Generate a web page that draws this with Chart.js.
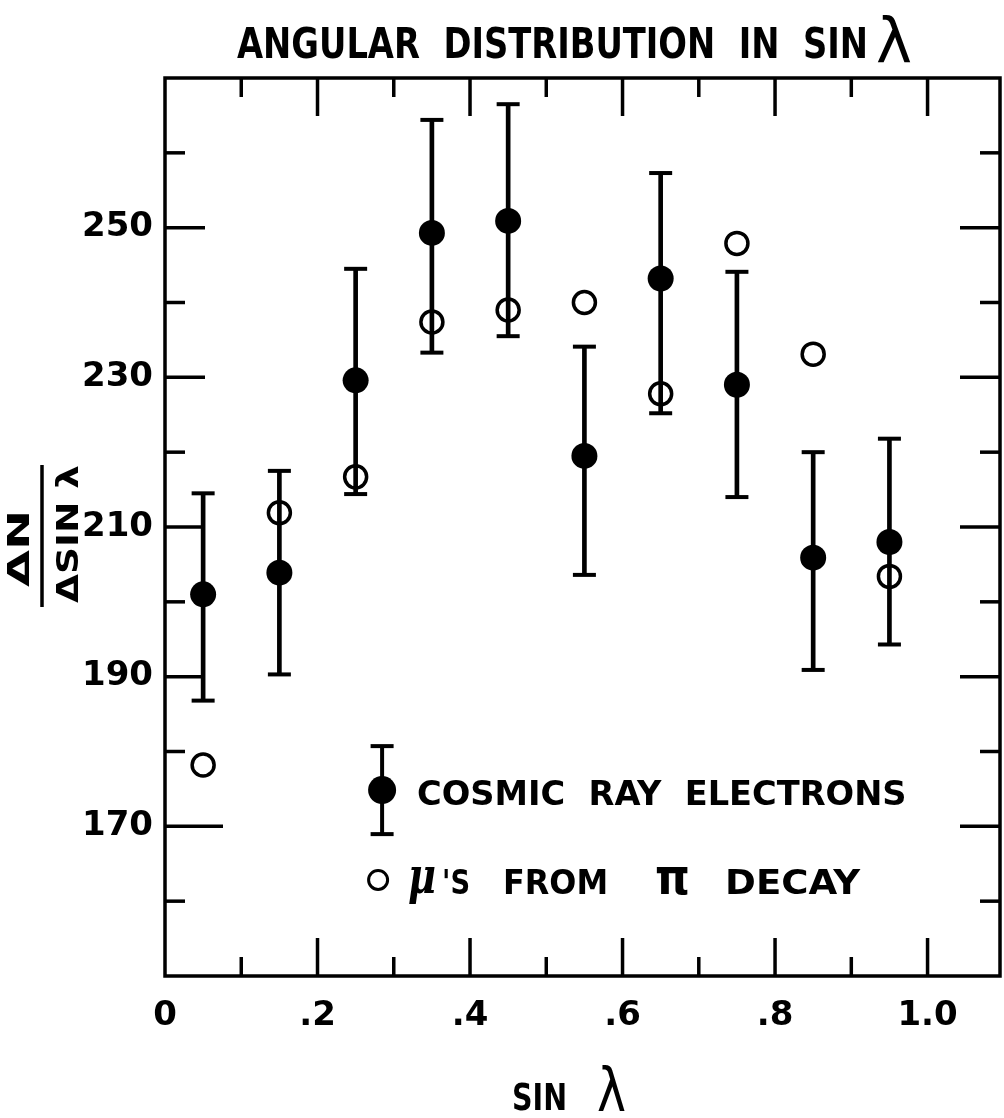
<!DOCTYPE html>
<html>
<head>
<meta charset="utf-8">
<script src="https://cdn.jsdelivr.net/npm/chart.js@4.4.1/dist/chart.umd.min.js"></script>
<style>
  html, body { margin: 0; padding: 0; background: #fff; }
  #wrap { width: 1004px; height: 1118px; }
</style>
</head>
<body>
<div id="wrap"><canvas id="angular" width="1004" height="1118"></canvas></div>
<script>
// bin centres in sin(lambda)
var sinLambda = [0.05, 0.15, 0.25, 0.35, 0.45, 0.55, 0.65, 0.75, 0.85, 0.95];

// cosmic ray electrons, with the ends of their error bars
var electrons     = [201.0, 203.9, 229.6, 249.3, 250.9, 219.5, 243.2, 229.0, 205.9, 208.0];
var electronsLow  = [186.8, 190.3, 214.4, 233.3, 235.5, 203.6, 225.2, 214.0, 190.9, 194.3];
var electronsHigh = [214.5, 217.5, 244.5, 264.4, 266.5, 234.1, 257.3, 244.1, 220.0, 221.8];

// mu's from pi decay
var muons = [178.2, 211.9, 216.7, 237.4, 239.0, 240.0, 227.8, 247.9, 233.1, 203.4];

// labelled ticks
var xTickValues = [0, 0.2, 0.4, 0.6, 0.8, 1.0];
var xTickLabels = ['0', '.2', '.4', '.6', '.8', '1.0'];
var yTickValues = [170, 190, 210, 230, 250];

var INK = '#000';
var LETTERING = '"Liberation Sans Narrow", "DejaVu Sans Condensed", "Roboto Condensed", "Liberation Sans", sans-serif';

function near(a, b) { return Math.abs(a - b) < 1e-6; }

function xLabel(v) {
  for (var i = 0; i < xTickValues.length; i++) {
    if (near(v, xTickValues[i])) return xTickLabels[i];
  }
  return '';
}

function yLabel(v) {
  return yTickValues.indexOf(Math.round(v)) >= 0 && near(v, Math.round(v)) ? String(v) : '';
}

// squeeze or stretch a line of lettering so it fills [left, right]
function fitText(ctx, text, left, right, baseline, font) {
  ctx.save();
  ctx.font = font;
  ctx.textAlign = 'left';
  ctx.textBaseline = 'alphabetic';
  var w = ctx.measureText(text).width;
  ctx.translate(left, baseline);
  ctx.scale((right - left) / w, 1);
  ctx.fillText(text, 0, 0);
  ctx.restore();
}

function stroke(ctx, x1, y1, x2, y2) {
  ctx.beginPath();
  ctx.moveTo(x1, y1);
  ctx.lineTo(x2, y2);
  ctx.stroke();
}

// box round the plot with inward ticks on all four sides
var frameTicks = {
  id: 'frameTicks',
  afterDatasetsDraw: function(chart) {
    var ctx = chart.ctx, a = chart.chartArea;
    var xs = chart.scales.x, ys = chart.scales.y;
    ctx.save();
    ctx.strokeStyle = INK;
    ctx.lineCap = 'butt';
    ctx.lineWidth = 3.5;
    ctx.strokeRect(a.left, a.top, a.right - a.left, a.bottom - a.top);
    xs.ticks.forEach(function(t) {
      if (t.value <= 0 || t.value >= xs.max) return;
      var major = xLabel(t.value) !== '';
      var len = major ? 38 : 19;
      var px = xs.getPixelForValue(t.value);
      stroke(ctx, px, a.bottom, px, a.bottom - len);
      stroke(ctx, px, a.top, px, a.top + len);
    });
    ys.ticks.forEach(function(t) {
      if (t.value <= ys.min || t.value >= ys.max) return;
      var major = yLabel(t.value) !== '';
      var len = major ? 40 : 20;
      var py = ys.getPixelForValue(t.value);
      // the lowest labelled tick on the left was drawn long on the original
      var leftLen = near(t.value, yTickValues[0]) ? 58 : len;
      stroke(ctx, a.left, py, a.left + leftLen, py);
      stroke(ctx, a.right, py, a.right - len, py);
    });
    ctx.restore();
  }
};

// titles and the key, lettered as on the original drawing
var lettering = {
  id: 'lettering',
  afterDraw: function(chart) {
    var ctx = chart.ctx, a = chart.chartArea;
    var w = a.right - a.left, h = a.bottom - a.top;
    ctx.save();
    ctx.fillStyle = INK;
    ctx.strokeStyle = INK;

    // top title
    fitText(ctx, 'ANGULAR  DISTRIBUTION  IN  SIN', 237, 868, 58, 'bold 42px ' + LETTERING);
    fitText(ctx, 'λ', 876, 912, 62, '62px "DejaVu Sans", sans-serif');

    // x title
    fitText(ctx, 'SIN', 512, 567, 1110, 'bold 38px ' + LETTERING);
    fitText(ctx, 'λ', 597, 626, 1111, '60px "DejaVu Sans", sans-serif');

    // y title, a fraction turned on its side
    ctx.save();
    ctx.translate(42, 536);
    ctx.rotate(-Math.PI / 2);
    fitText(ctx, 'ΔN', -51, 26, -13, 'bold 30px "DejaVu Sans", sans-serif');
    fitText(ctx, 'ΔSIN λ', -67, 71, 36, 'bold 30px "DejaVu Sans", sans-serif');
    ctx.lineWidth = 3.5;
    stroke(ctx, -71, 0, 71, 0);
    ctx.restore();

    // key
    var kx = a.left + 0.26 * w;
    var r1 = a.top + 0.793 * h;
    var r2 = a.top + 0.893 * h;
    var keyFont = 'bold 34px ' + LETTERING;
    ctx.lineWidth = 4;
    stroke(ctx, kx, r1 - 44, kx, r1 + 44);
    stroke(ctx, kx - 11.5, r1 - 44, kx + 11.5, r1 - 44);
    stroke(ctx, kx - 11.5, r1 + 44, kx + 11.5, r1 + 44);
    ctx.beginPath();
    ctx.arc(kx, r1, 14, 0, Math.PI * 2);
    ctx.fill();
    fitText(ctx, 'COSMIC  RAY  ELECTRONS', kx + 35, a.left + 0.888 * w, r1 + 15, keyFont);

    ctx.lineWidth = 3;
    ctx.beginPath();
    ctx.arc(kx - 4, r2, 9.5, 0, Math.PI * 2);
    ctx.stroke();
    fitText(ctx, 'μ', kx + 26, kx + 54, r2 + 13, 'italic bold 50px "DejaVu Serif", serif');
    fitText(ctx, '\'S', kx + 60, kx + 88, r2 + 14, keyFont);
    fitText(ctx, 'FROM', kx + 121, kx + 226, r2 + 14, keyFont);
    fitText(ctx, 'π', kx + 273, kx + 308, r2 + 14, 'bold 50px "DejaVu Sans", sans-serif');
    fitText(ctx, 'DECAY', kx + 343, kx + 478, r2 + 14, keyFont);
    ctx.restore();
  }
};

var errorStems = sinLambda.map(function(x, i) {
  return { x: x, y: [electronsLow[i], electronsHigh[i]] };
});
var errorCaps = [];
sinLambda.forEach(function(x, i) {
  errorCaps.push({ x: x, y: electronsLow[i] });
  errorCaps.push({ x: x, y: electronsHigh[i] });
});
var electronPoints = sinLambda.map(function(x, i) { return { x: x, y: electrons[i] }; });
var muonPoints = sinLambda.map(function(x, i) { return { x: x, y: muons[i] }; });

var tickFont = { family: '"DejaVu Sans", sans-serif', size: 34, weight: 'bold' };

new Chart(document.getElementById('angular'), {
  type: 'scatter',
  data: {
    datasets: [
      {
        type: 'scatter',
        label: "μ's from π decay",
        data: muonPoints,
        pointRadius: 11,
        pointBorderWidth: 3.5,
        pointBorderColor: INK,
        pointBackgroundColor: 'rgba(0,0,0,0)'
      },
      {
        type: 'scatter',
        label: 'cosmic ray electrons',
        data: electronPoints,
        pointRadius: 13,
        pointBorderWidth: 0,
        pointBackgroundColor: INK
      },
      {
        type: 'scatter',
        label: 'error bar caps',
        data: errorCaps,
        pointStyle: 'line',
        pointRadius: 11.5,
        pointBorderWidth: 4,
        pointBorderColor: INK
      },
      {
        type: 'bar',
        label: 'error bars',
        data: errorStems,
        backgroundColor: INK,
        borderWidth: 0,
        barThickness: 4
      }
    ]
  },
  options: {
    responsive: false,
    animation: false,
    events: [],
    layout: { autoPadding: false, padding: { top: 78, right: 4, left: 0, bottom: 0 } },
    plugins: {
      legend: { display: false },
      title: { display: false },
      tooltip: { enabled: false }
    },
    scales: {
      x: {
        type: 'linear',
        min: 0,
        max: 1.095,
        offset: false,
        afterFit: function(s) {
          s.height = 142;
          s.paddingLeft = 0;
          s.paddingRight = 0;
        },
        grid: { display: false, drawTicks: false, offset: false },
        border: { display: false },
        ticks: {
          stepSize: 0.1,
          includeBounds: false,
          autoSkip: false,
          maxRotation: 0,
          padding: 20,
          color: INK,
          font: tickFont,
          callback: function(v) { return xLabel(v); }
        }
      },
      y: {
        type: 'linear',
        min: 150,
        max: 270,
        afterFit: function(s) {
          s.width = 165;
          s.paddingTop = 0;
          s.paddingBottom = 0;
        },
        grid: { display: false, drawTicks: false },
        border: { display: false },
        ticks: {
          stepSize: 10,
          includeBounds: false,
          autoSkip: false,
          padding: 12,
          color: INK,
          font: tickFont,
          callback: function(v) { return yLabel(v); }
        }
      }
    }
  },
  plugins: [frameTicks, lettering]
});
</script>
</body>
</html>
